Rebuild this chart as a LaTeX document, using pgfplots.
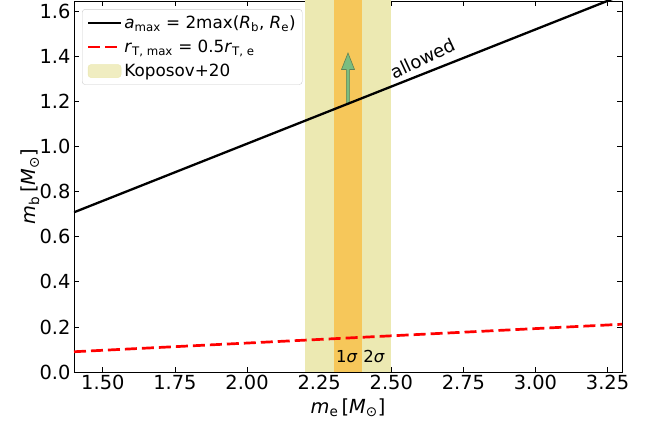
\documentclass[border=0pt]{standalone}
\usepackage{fontspec}
\setmainfont{DejaVu Sans}
\usepackage{pgfplots}
\pgfplotsset{compat=1.18}
\definecolor{band2}{RGB}{236,233,178}
\definecolor{band1}{RGB}{246,199,90}
\definecolor{arrowfill}{RGB}{122,189,128}
\definecolor{arrowedge}{RGB}{95,130,85}
\newcommand{\sub}[1]{\textsubscript{#1}}
\begin{document}
\begin{tikzpicture}
\begin{axis}[
 name=ax,
 scale only axis, width=548pt, height=371pt,
 xmin=1.4, xmax=3.3, ymin=0, ymax=1.647,
 xtick={1.5,1.75,2,2.25,2.5,2.75,3,3.25},
 ytick={0,0.2,0.4,0.6,0.8,1.0,1.2,1.4,1.6},
 xticklabel style={/pgf/number format/.cd, fixed, fixed zerofill, precision=2},
 yticklabel style={/pgf/number format/.cd, fixed, fixed zerofill, precision=1},
 /pgf/number format/assume math mode=true,
 tick label style={font=\fontsize{19.4}{23}\selectfont},
 label style={font=\fontsize{19.4}{23}\selectfont},
 tick align=inside, major tick length=5pt,
 tick style={black, line width=0.8pt},
 axis line style={line width=0.8pt},
 xlabel={\textit{m}\sub{e}\,[\textit{M}\sub{⊙}]},
 ylabel={\textit{m}\sub{b}\,[\textit{M}\sub{⊙}]},
 xlabel style={at={(axis description cs:0.5,-0.097)}, anchor=center},
 ylabel style={at={(axis description cs:-0.08,0.5)}, anchor=center},
 legend style={at={(0.0146,0.978)}, anchor=north west, draw=black!20,
   rounded corners=3pt, fill=white, fill opacity=0.8, text opacity=1,
   font=\fontsize{16.8}{19}\selectfont, row sep=6pt, inner sep=4.5pt},
 legend cell align=left,
 legend image code/.code={\draw[#1] (0pt,0pt) -- (33pt,0pt);},
]
\addplot[draw=none, fill=band2, forget plot] coordinates {(2.2,1.7) (2.5,1.7)} \closedcycle;
\addplot[draw=none, fill=band1, forget plot] coordinates {(2.3,1.7) (2.4,1.7)} \closedcycle;
\addplot[fill=arrowfill, draw=arrowedge, line width=0.6pt, forget plot] coordinates {
 (2.3445,1.19) (2.3445,1.343) (2.3275,1.343) (2.35,1.416) (2.3725,1.343) (2.3555,1.343) (2.3555,1.19) (2.3445,1.19)};
\addplot[black, line width=2.3pt] coordinates {(1.4,0.709) (3.3,1.673)};
\addlegendentry{\textit{a}\sub{max} = 2max(\textit{R}\sub{b}, \textit{R}\sub{e})}
\addplot[red, line width=2.7pt, dash pattern=on 12pt off 5pt] coordinates {(1.4,0.090) (3.3,0.212)};
\addlegendentry{\textit{r}\sub{T, max} = 0.5\textit{r}\sub{T, e}}
\addlegendimage{legend image code/.code={\fill[band2] (0pt,-6.5pt) rectangle (33pt,6.5pt);}}
\addlegendentry{Koposov+20}
\node[rotate=25, font=\fontsize{18}{21}\selectfont] at (axis cs:2.609,1.392) {allowed};
\node[font=\fontsize{16.5}{19}\selectfont] at (axis cs:2.346,0.067) {1\textit{σ}};
\node[font=\fontsize{16.5}{19}\selectfont] at (axis cs:2.44,0.067) {2\textit{σ}};
\end{axis}
\pgfresetboundingbox
\path ([shift={(-74pt,-54pt)}]ax.south west) rectangle ([shift={(33pt,1pt)}]ax.north east);
\end{tikzpicture}
\end{document}
